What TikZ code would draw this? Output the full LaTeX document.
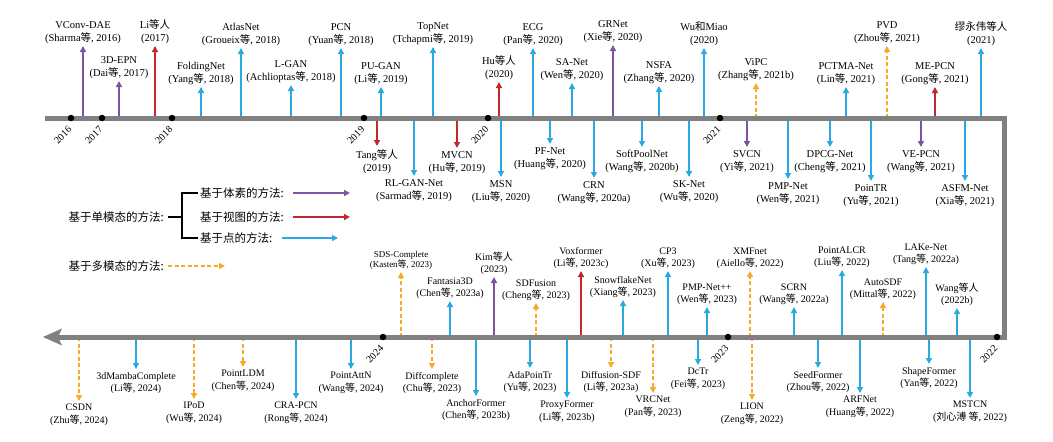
\documentclass[tikz,border=0pt]{standalone}
\usepackage{fontspec}
\setmainfont{Liberation Serif}
\newfontfamily\cjk{Noto Sans CJK SC}
\usetikzlibrary{arrows.meta}
\definecolor{cpur}{RGB}{126,82,160}
\definecolor{cred}{RGB}{193,39,45}
\definecolor{cblu}{RGB}{41,169,225}
\definecolor{corg}{RGB}{247,170,40}
\definecolor{cgray}{RGB}{128,128,128}
\newcommand\deng{{\cjk 等}}
\newcommand\upArr[7][]{%
  \coordinate (#6s) at (#3,#4);
  \node[lbl,anchor=south,#1] (#6) at (#3,#5) {#7};
  \draw[#2] (#6s) -- (#6.south);}
\newcommand\dnArr[7][]{%
  \coordinate (#6s) at (#3,#4);
  \node[lbl,anchor=north,inner sep=3pt,#1] (#6) at (#3,#5) {#7};
  \draw[#2] (#6s) -- (#6.north);}
\begin{document}
\begin{tikzpicture}[x=1pt,y=-1pt,
  lbl/.style={align=center,inner sep=2pt,font=\fontsize{10.5}{13}\selectfont},
  arr/.style={line width=1.4pt,-{Triangle[length=6pt,width=6pt]}},
  purA/.style={arr,draw=cpur},
  redA/.style={arr,draw=cred},
  bluA/.style={arr,draw=cblu},
  orgA/.style={arr,draw=corg,dash pattern=on 4pt off 2.5pt},
  axis/.style={line width=5pt,draw=cgray,line join=miter},
  ydot/.style={circle,fill=black,inner sep=0pt,minimum size=6.5pt},
  ylab/.style={rotate=45,anchor=east,inner sep=0pt,font=\fontsize{10}{12}\selectfont},
  leg/.style={inner sep=0pt,font=\cjk\fontsize{11.5}{14}\selectfont},
  brk/.style={line width=1.1pt,draw=black}]
\useasboundingbox (0,0) rectangle (1053,442);

% ---------- top axis: upward ----------
\upArr{purA}{83}{118}{46}{vconv}{VConv-DAE\\(Sharma\deng, 2016)}
\upArr{purA}{119}{118}{81}{epn}{3D-EPN\\(Dai\deng, 2017)}
\upArr{redA}{155}{118}{46}{lietal}{Li{\cjk 等人}\\(2017)}
\upArr{bluA}{201}{118}{87}{folding}{FoldingNet\\(Yang\deng, 2018)}
\upArr{bluA}{241}{118}{48}{atlas}{AtlasNet\\(Groueix\deng, 2018)}
\upArr{bluA}{291}{118}{85}{lgan}{L-GAN\\(Achlioptas\deng, 2018)}
\upArr{bluA}{341}{118}{48}{pcn}{PCN\\(Yuan\deng, 2018)}
\upArr{bluA}{381}{118}{87}{pugan}{PU-GAN\\(Li\deng, 2019)}
\upArr{bluA}{433}{118}{47}{topnet}{TopNet\\(Tchapmi\deng, 2019)}
\upArr{redA}{499}{118}{82}{huetal}{Hu{\cjk 等人}\\(2020)}
\upArr{bluA}{533}{118}{48}{ecg}{ECG\\(Pan\deng, 2020)}
\upArr{bluA}{572}{118}{83}{sanet}{SA-Net\\(Wen\deng, 2020)}
\upArr{purA}{613}{118}{45}{grnet}{GRNet\\(Xie\deng, 2020)}
\upArr{bluA}{659}{118}{86}{nsfa}{NSFA\\(Zhang\deng, 2020)}
\upArr{bluA}{704}{118}{48}{wumiao}{Wu{\cjk 和}Miao\\(2020)}
\upArr{orgA}{756}{118}{83}{vipc}{ViPC\\(Zhang\deng, 2021b)}
\upArr{bluA}{846}{118}{87}{pctma}{PCTMA-Net\\(Lin\deng, 2021)}
\upArr{orgA}{887}{118}{46}{pvd}{PVD\\(Zhou\deng, 2021)}
\upArr{redA}{935}{118}{87}{mepcn}{ME-PCN\\(Gong\deng, 2021)}
\upArr{bluA}{981}{118}{48}{miao}{{\cjk 缪永伟等人}\\(2021)}

% ---------- top axis: downward ----------
\dnArr{redA}{377}{118}{146}{tang}{Tang{\cjk 等人}\\(2019)}
\dnArr{bluA}{414}{118}{176}{rlgan}{RL-GAN-Net\\(Sarmad\deng, 2019)}
\dnArr{redA}{457}{118}{148}{mvcn}{MVCN\\(Hu\deng, 2019)}
\dnArr{bluA}{501}{118}{177}{msn}{MSN\\(Liu\deng, 2020)}
\dnArr{bluA}{550}{118}{144}{pfnet}{PF-Net\\(Huang\deng, 2020)}
\dnArr{bluA}{594}{118}{178}{crn}{CRN\\(Wang\deng, 2020a)}
\dnArr{bluA}{642}{118}{147}{softpool}{SoftPoolNet\\(Wang\deng, 2020b)}
\dnArr{bluA}{689}{118}{177}{sknet}{SK-Net\\(Wu\deng, 2020)}
\dnArr{purA}{747}{118}{147}{svcn}{SVCN\\(Yi\deng, 2021)}
\dnArr{bluA}{788}{118}{179}{pmpnet}{PMP-Net\\(Wen\deng, 2021)}
\dnArr{bluA}{830}{118}{147}{dpcg}{DPCG-Net\\(Cheng\deng, 2021)}
\dnArr{bluA}{871}{118}{181}{pointr}{PoinTR\\(Yu\deng, 2021)}
\dnArr{purA}{921}{118}{147}{vepcn}{VE-PCN\\(Wang\deng, 2021)}
\dnArr{bluA}{965}{118}{181}{asfm}{ASFM-Net\\(Xia\deng, 2021)}

% ---------- bottom axis: upward ----------
\upArr[font=\fontsize{9}{10.5}\selectfont]{orgA}{401}{337}{272}{sds}{SDS-Complete\\(Kasten\deng, 2023)}
\upArr[font=\fontsize{10}{12.5}\selectfont]{bluA}{450}{337}{301}{fant}{Fantasia3D\\(Chen\deng, 2023a)}
\upArr[font=\fontsize{10}{12.5}\selectfont]{purA}{494}{337}{277}{kim}{Kim{\cjk 等人}\\(2023)}
\upArr[font=\fontsize{10}{12.5}\selectfont]{orgA}{536}{337}{303}{sdfusion}{SDFusion\\(Cheng\deng, 2023)}
\upArr[font=\fontsize{10}{12.5}\selectfont]{redA}{581}{337}{271}{voxf}{Voxformer\\(Li\deng, 2023c)}
\upArr[font=\fontsize{10}{12.5}\selectfont]{bluA}{623}{337}{300}{snow}{SnowflakeNet\\(Xiang\deng, 2023)}
\upArr[font=\fontsize{10}{12.5}\selectfont]{bluA}{668}{337}{271}{cpthree}{CP3\\(Xu\deng, 2023)}
\upArr[font=\fontsize{10}{12.5}\selectfont]{bluA}{707}{337}{307}{pmppp}{PMP-Net++\\(Wen\deng, 2023)}
\upArr[font=\fontsize{10}{12.5}\selectfont]{orgA}{750}{337}{271}{xmf}{XMFnet\\(Aiello\deng, 2022)}
\upArr[font=\fontsize{10}{12.5}\selectfont]{bluA}{794}{337}{307}{scrn}{SCRN\\(Wang\deng, 2022a)}
\upArr[font=\fontsize{10}{12.5}\selectfont]{bluA}{842}{337}{270}{alcr}{PointALCR\\(Liu\deng, 2022)}
\upArr[font=\fontsize{10}{12.5}\selectfont]{orgA}{883}{337}{302}{autosdf}{AutoSDF\\(Mittal\deng, 2022)}
\upArr[font=\fontsize{10}{12.5}\selectfont]{bluA}{926}{337}{267}{lake}{LAKe-Net\\(Tang\deng, 2022a)}
\upArr[font=\fontsize{10}{12.5}\selectfont]{bluA}{957}{337}{308}{wangb}{Wang{\cjk 等人}\\(2022b)}

% ---------- bottom axis: downward ----------
\dnArr[font=\fontsize{10}{12.5}\selectfont]{orgA}{79}{337}{401}{csdn}{CSDN\\(Zhu\deng, 2024)}
\dnArr[font=\fontsize{10}{12.5}\selectfont]{bluA}{136}{337}{369}{mamba}{3dMambaComplete\\(Li\deng, 2024)}
\dnArr[font=\fontsize{10}{12.5}\selectfont]{orgA}{194}{337}{399}{ipod}{IPoD\\(Wu\deng, 2024)}
\dnArr[font=\fontsize{10}{12.5}\selectfont]{orgA}{243}{337}{367}{pldm}{PointLDM\\(Chen\deng, 2024)}
\dnArr[font=\fontsize{10}{12.5}\selectfont]{bluA}{296}{337}{399}{crapcn}{CRA-PCN\\(Rong\deng, 2024)}
\dnArr[font=\fontsize{10}{12.5}\selectfont]{bluA}{351}{337}{369}{pattn}{PointAttN\\(Wang\deng, 2024)}
\dnArr[font=\fontsize{10}{12.5}\selectfont]{orgA}{432}{337}{369}{diffc}{Diffcomplete\\(Chu\deng, 2023)}
\dnArr[font=\fontsize{10}{12.5}\selectfont]{bluA}{476}{337}{396}{anchorf}{AnchorFormer\\(Chen\deng, 2023b)}
\dnArr[font=\fontsize{10}{12.5}\selectfont]{bluA}{530}{337}{368}{adapt}{AdaPoinTr\\(Yu\deng, 2023)}
\dnArr[font=\fontsize{10}{12.5}\selectfont]{bluA}{567}{337}{398}{proxy}{ProxyFormer\\(Li\deng, 2023b)}
\dnArr[font=\fontsize{10}{12.5}\selectfont]{orgA}{611}{337}{368}{diffsdf}{Diffusion-SDF\\(Li\deng, 2023a)}
\dnArr[font=\fontsize{10}{12.5}\selectfont]{orgA}{653}{337}{393}{vrc}{VRCNet\\(Pan\deng, 2023)}
\dnArr[font=\fontsize{10}{12.5}\selectfont]{bluA}{698}{337}{365}{dctr}{DcTr\\(Fei\deng, 2023)}
\dnArr[font=\fontsize{10}{12.5}\selectfont]{orgA}{752}{337}{400}{lion}{LION\\(Zeng\deng, 2022)}
\dnArr[font=\fontsize{10}{12.5}\selectfont]{bluA}{818}{337}{368}{seed}{SeedFormer\\(Zhou\deng, 2022)}
\dnArr[font=\fontsize{10}{12.5}\selectfont]{bluA}{860}{337}{393}{arf}{ARFNet\\(Huang\deng, 2022)}
\dnArr[font=\fontsize{10}{12.5}\selectfont]{bluA}{929}{337}{364}{shapef}{ShapeFormer\\(Yan\deng, 2022)}
\dnArr[font=\fontsize{10}{12.5}\selectfont]{bluA}{970}{337}{398}{mstcn}{MSTCN\\({\cjk 刘心溥 等}, 2022)}

% ---------- axis ----------
\draw[axis] (45,118) -- (1004,118) -- (1004,337) -- (58,337);
\fill[cgray] (43,337) -- (62,328.5) -- (58,337) -- (62,345.5) -- cycle;

% ---------- years ----------
\foreach \yr/\xx/\yy in {2016/71/118,2017/102/118,2018/172/118,2019/364/118,2020/488/118,2021/720/118,2024/383/337,2023/728/337,2022/997/337}{
  \node[ydot] (y\yr) at (\xx,\yy) {};
  \node[ylab] (l\yr) at ([xshift=-1pt,yshift=-10pt]y\yr.center) {\yr};
}

% ---------- legend ----------
\node[leg,anchor=east] (single) at (164,217) {基于单模态的方法:};
\node[leg,anchor=west] (voxl) at (200,193) {基于体素的方法:};
\node[leg,anchor=west] (viewl) at (200,217) {基于视图的方法:};
\node[leg,anchor=west] (ptl) at (200,238) {基于点的方法:};
\node[leg,anchor=east] (multi) at (164,266) {基于多模态的方法:};
\coordinate (br) at (182,217);
\draw[brk] ([xshift=4pt]single.east) -- (br);
\draw[brk] ([xshift=-2pt]voxl.west) -| (br) |- ([xshift=-2pt]ptl.west);
\coordinate (lv1) at (293,193); \coordinate (lv2) at (350,193);
\coordinate (lr1) at (293,217); \coordinate (lr2) at (350,217);
\coordinate (lb1) at (282,238); \coordinate (lb2) at (338,238);
\coordinate (lo1) at (168,266); \coordinate (lo2) at (225,266);
\draw[purA] (lv1) -- (lv2);
\draw[redA] (lr1) -- (lr2);
\draw[bluA] (lb1) -- (lb2);
\draw[orgA] (lo1) -- (lo2);
\end{tikzpicture}
\end{document}
